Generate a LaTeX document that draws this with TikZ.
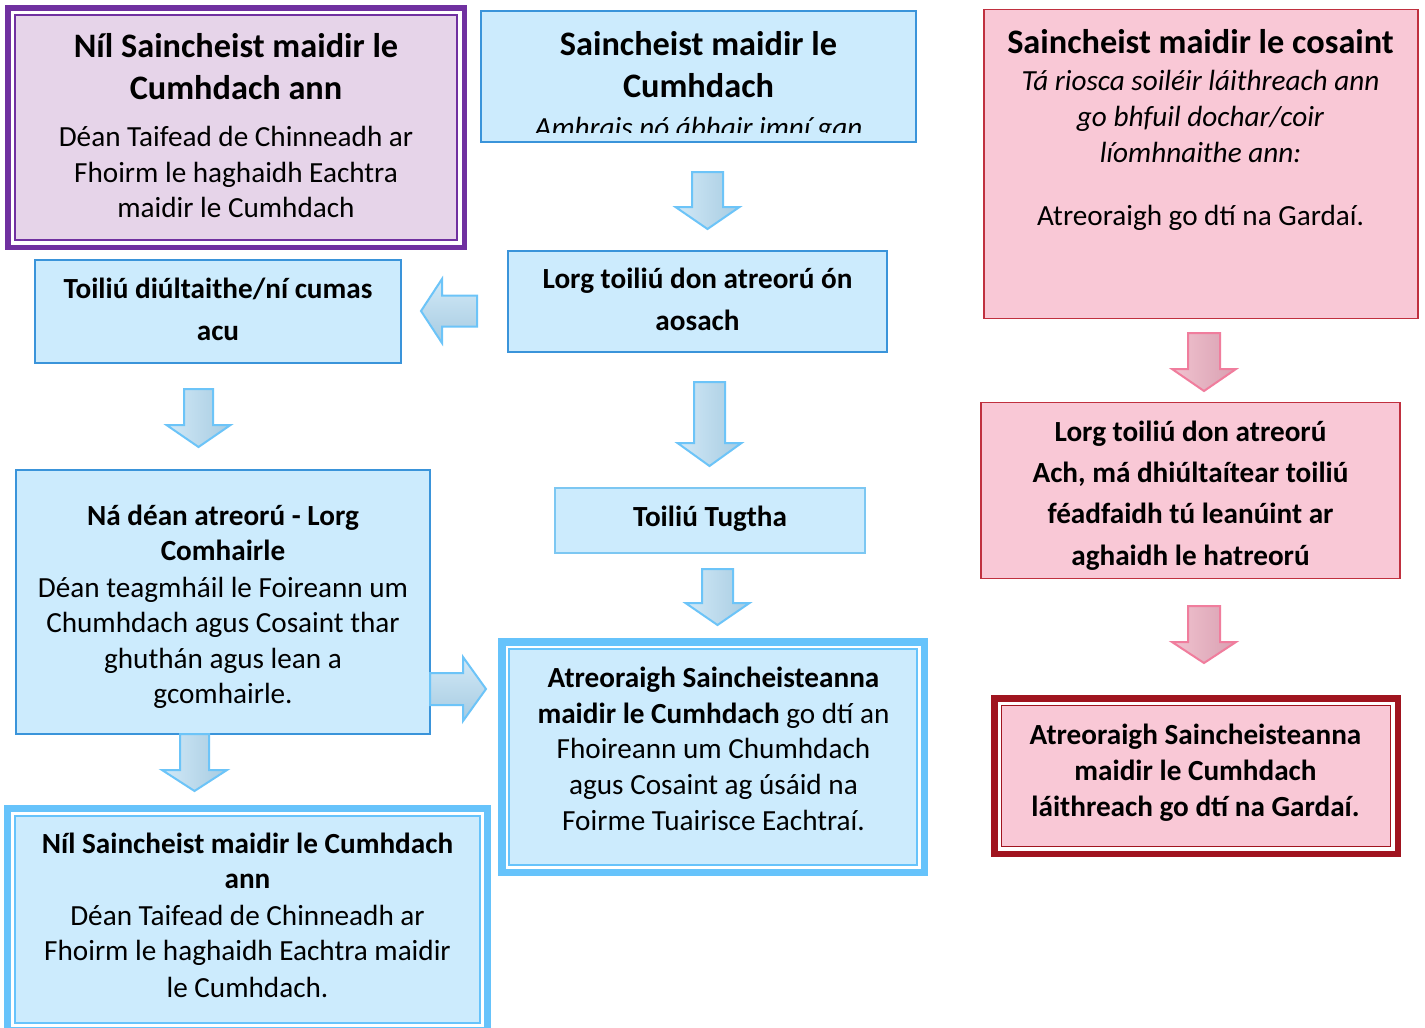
\documentclass[tikz,border=0pt]{standalone}
\usepackage{fontspec}
\setmainfont{Carlito}
\definecolor{lav}{HTML}{E6D4E9}
\definecolor{purp}{HTML}{7030A0}
\definecolor{lblue}{HTML}{CCEBFD}
\definecolor{bblue}{HTML}{3A94DA}
\definecolor{tblue}{HTML}{7CC7F2}
\definecolor{band}{HTML}{66C3FB}
\definecolor{lpink}{HTML}{F9C8D6}
\definecolor{rborder}{HTML}{C0303F}
\definecolor{dred}{HTML}{A0141F}
\definecolor{arL}{HTML}{D2E9F7}
\definecolor{arR}{HTML}{A6CBE1}
\definecolor{arB}{HTML}{6CC4F8}
\definecolor{apL}{HTML}{F1C3D0}
\definecolor{apR}{HTML}{D8A0B1}
\definecolor{apB}{HTML}{F07D9D}
\newcommand\fsBody{\fontsize{29.2}{36}\selectfont}
\newcommand\fsHead{\fontsize{34.3}{42}\selectfont\bfseries}
\newcommand\blockdown[7]{\path[#1] ({#2-#3},#5) -- ({#2+#3},#5) -- ({#2+#3},#6) -- ({#2+#4},#6) -- (#2,#7) -- ({#2-#4},#6) -- ({#2-#3},#6) -- cycle;}
\tikzset{
  sbox/.style={rectangle, inner sep=0, line width=1.5pt},
  fillbox/.style={rectangle, inner sep=0, draw=none},
  hd/.style={anchor=base, inner sep=0, font=\fsHead},
  bd/.style={anchor=base, inner sep=0, font=\fsBody\bfseries},
  rg/.style={anchor=base, inner sep=0, font=\fsBody},
  it/.style={anchor=base, inner sep=0, font=\fsBody\itshape},
  barrow/.style={draw=arB, line width=2pt, left color=arL, right color=arR},
  harrow/.style={draw=arB, line width=2pt, top color=arL, bottom color=arR},
  parrow/.style={draw=apB, line width=2pt, left color=apL, right color=apR},
}
\begin{document}
\begin{tikzpicture}[x=1pt, y=-1pt]
\clip (0,0) rectangle (1425,1028);
\fill[white] (0,0) rectangle (1425,1028);

% ---------- purple box ----------
\node[fillbox, fill=purp, minimum width=462, minimum height=245] (pout) at (236,127.5) {};
\node[fillbox, fill=white, minimum width=451, minimum height=234] (pgap) at (236,127.5) {};
\node[sbox, fill=lav, draw=purp, minimum width=442, minimum height=225] (pin) at (236,127.5) {};
\node[hd] (p1) at (236,57) {Níl Saincheist maidir le};
\node[hd] (p2) at (236,99) {Cumhdach ann};
\node[rg] (p3) at (236,146) {Déan Taifead de Chinneadh ar};
\node[rg] (p4) at (236,182) {Fhoirm le haghaidh Eachtra};
\node[rg] (p5) at (236,217) {maidir le Cumhdach};

% ---------- top middle ----------
\node[sbox, fill=lblue, draw=bblue, minimum width=435, minimum height=131] (topmid) at (698.5,76.5) {};
\node[hd] (t1) at (698.5,55) {Saincheist maidir le};
\node[hd] (t2) at (698.5,97) {Cumhdach};
\begin{scope}
\clip (481,11) rectangle (916,132);
\node[it] (t3) at (698.5,137) {Amhrais nó ábhair imní gan};
\end{scope}

% ---------- top right ----------
\node[sbox, fill=lpink, draw=rborder, minimum width=434, minimum height=309] (topright) at (1201,164) {};
\node[hd] (r1) at (1200.5,53) {Saincheist maidir le cosaint};
\node[it] (r2) at (1200.5,90) {Tá riosca soiléir láithreach ann};
\node[it] (r3) at (1200.5,126) {go bhfuil dochar/coir};
\node[it] (r4) at (1200.5,162) {líomhnaithe ann:};
\node[rg] (r5) at (1200.5,225) {Atreoraigh go dtí na Gardaí.};

% ---------- Lorg toiliu ----------
\node[sbox, fill=lblue, draw=bblue, minimum width=379, minimum height=101] (lorg) at (697.5,301.5) {};
\node[bd] (l1) at (697.5,288.5) {Lorg toiliú don atreorú ón};
\node[bd] (l2) at (697.5,330) {aosach};

% ---------- Toiliu diultaithe ----------
\node[sbox, fill=lblue, draw=bblue, minimum width=366, minimum height=103] (diult) at (218,311.5) {};
\node[bd] (d1) at (218,298) {Toiliú diúltaithe/ní cumas};
\node[bd] (d2) at (218,340) {acu};

% ---------- Na dean ----------
\node[sbox, fill=lblue, draw=bblue, minimum width=414, minimum height=264] (nadean) at (223,602) {};
\node[bd] (n1) at (223,525) {Ná déan atreorú - Lorg};
\node[bd] (n2) at (223,560) {Comhairle};
\node[rg] (n3) at (223,597) {Déan teagmháil le Foireann um};
\node[rg] (n4) at (223,632) {Chumhdach agus Cosaint thar};
\node[rg] (n5) at (223,668) {ghuthán agus lean a};
\node[rg] (n6) at (223,703) {gcomhairle.};

% ---------- bottom left ----------
\node[fillbox, fill=band, minimum width=487, minimum height=229] (blout) at (247.5,919.5) {};
\node[fillbox, fill=white, minimum width=473, minimum height=215] (blgap) at (247.5,919.5) {};
\node[sbox, fill=lblue, draw=band, minimum width=465, minimum height=207] (blin) at (247.5,919.5) {};
\node[bd] (b1) at (247.5,853) {Níl Saincheist maidir le Cumhdach};
\node[bd] (b2) at (247.5,888) {ann};
\node[rg] (b3) at (247.5,925) {Déan Taifead de Chinneadh ar};
\node[rg] (b4) at (247.5,960) {Fhoirm le haghaidh Eachtra maidir};
\node[rg] (b5) at (247.5,997) {le Cumhdach.};

% ---------- Toiliu Tugtha ----------
\node[sbox, fill=lblue, draw=tblue, minimum width=310, minimum height=65] (tugtha) at (710,520.5) {};
\node[bd] (g1) at (710,526) {Toiliú Tugtha};

% ---------- big blue ----------
\node[fillbox, fill=band, minimum width=430, minimum height=238] (bbout) at (713,757) {};
\node[fillbox, fill=white, minimum width=415, minimum height=223] (bbgap) at (713,757) {};
\node[sbox, fill=lblue, draw=band, minimum width=408, minimum height=216] (bbin) at (713,757) {};
\node[bd] (c1) at (713.5,687) {Atreoraigh Saincheisteanna};
\node[rg] (c2) at (713.5,723) {\textbf{maidir le Cumhdach} go dtí an};
\node[rg] (c3) at (713.5,758) {Fhoireann um Chumhdach};
\node[rg] (c4) at (713.5,794) {agus Cosaint ag úsáid na};
\node[rg] (c5) at (713.5,830) {Foirme Tuairisce Eachtraí.};

% ---------- pink Lorg ----------
\node[sbox, fill=lpink, draw=rborder, minimum width=419, minimum height=176] (plorg) at (1190.5,490.5) {};
\node[bd] (k1) at (1190.5,441) {Lorg toiliú don atreorú};
\node[bd] (k2) at (1190.5,482) {Ach, má dhiúltaítear toiliú};
\node[bd] (k3) at (1190.5,523) {féadfaidh tú leanúint ar};
\node[bd] (k4) at (1190.5,565) {aghaidh le hatreorú};

% ---------- dark red ----------
\node[fillbox, fill=dred, minimum width=410, minimum height=162] (drout) at (1196,776) {};
\node[fillbox, fill=white, minimum width=397, minimum height=149] (drgap) at (1196,776) {};
\node[sbox, fill=lpink, draw=dred, minimum width=389, minimum height=141] (drin) at (1196,776) {};
\node[bd] (e1) at (1195.5,744) {Atreoraigh Saincheisteanna};
\node[bd] (e2) at (1195.5,780) {maidir le Cumhdach};
\node[bd] (e3) at (1195.5,816) {láithreach go dtí na Gardaí.};

% ---------- block arrows ----------
\blockdown{barrow}{707.5}{15.5}{32}{172}{207}{229}
\blockdown{barrow}{198.5}{14.5}{32}{389}{425}{447}
\blockdown{barrow}{709.5}{15.5}{32}{382}{443}{466}
\blockdown{barrow}{717.5}{15.5}{32}{569}{603}{625}
\blockdown{barrow}{194.5}{14.5}{32.5}{734}{770}{791}
\blockdown{parrow}{1204}{16}{32}{333}{369}{391}
\blockdown{parrow}{1204}{16}{32}{606}{642}{663}
\path[harrow] (477,295.5) -- (442,295.5) -- (442,279) -- (421,311) -- (442,343) -- (442,326.5) -- (477,326.5) -- cycle;
\path[harrow] (430,673) -- (463,673) -- (463,657) -- (486,689) -- (463,721) -- (463,705) -- (430,705) -- cycle;
\end{tikzpicture}
\end{document}
